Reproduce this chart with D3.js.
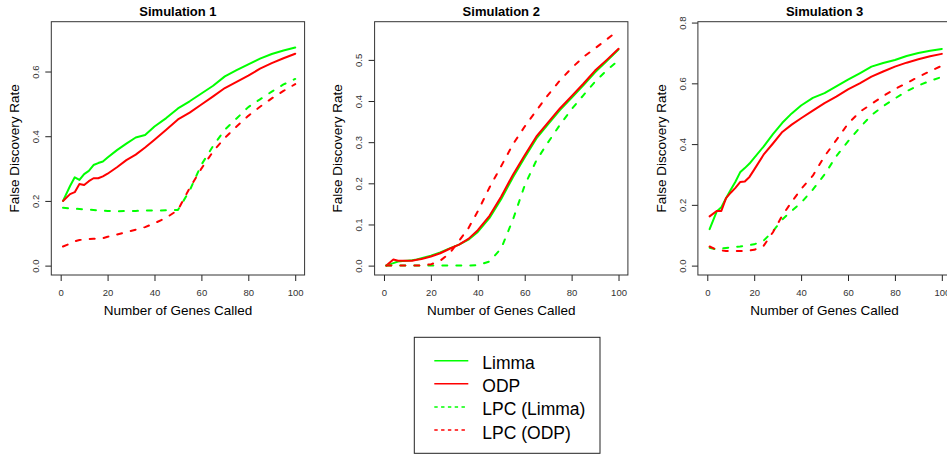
<!DOCTYPE html>
<html lang="en">
<head>
    <meta charset="UTF-8">
    <title>False Discovery Rate — Simulations 1-3</title>
    <script src="https://d3js.org/d3.v7.min.js"></script>
    <style>
        body {
            margin: 0;
            background-color: white;
        }

        svg {
            display: block;
            font-family: "Liberation Sans", Arial, Helvetica, sans-serif;
        }
    </style>
</head>
<body>
<svg></svg>
<script>
    // number of genes called (x values shared by every curve)
    const genesCalled = [1, 4, 6, 8, 10, 12, 14, 16, 18, 20, 24, 28, 32, 36, 40, 45, 50, 55, 60, 65, 70, 75, 80, 85, 90, 95, 100];

    // Simulation 1
    const sim1Limma    = [0.200, 0.246, 0.273, 0.265, 0.283, 0.293, 0.311, 0.317, 0.322, 0.334, 0.357, 0.377, 0.396, 0.404, 0.430, 0.456, 0.486, 0.508, 0.532, 0.556, 0.585, 0.604, 0.622, 0.640, 0.654, 0.665, 0.674];
    const sim1Odp      = [0.200, 0.221, 0.227, 0.252, 0.249, 0.261, 0.270, 0.270, 0.276, 0.284, 0.304, 0.326, 0.343, 0.365, 0.389, 0.420, 0.452, 0.473, 0.498, 0.523, 0.549, 0.568, 0.587, 0.609, 0.626, 0.641, 0.655];
    const sim1LpcLimma = [0.179, 0.177, 0.176, 0.175, 0.174, 0.173, 0.172, 0.171, 0.170, 0.169, 0.168, 0.169, 0.169, 0.170, 0.170, 0.171, 0.172, 0.232, 0.312, 0.370, 0.420, 0.455, 0.490, 0.514, 0.538, 0.560, 0.577];
    const sim1LpcOdp   = [0.059, 0.068, 0.075, 0.079, 0.081, 0.082, 0.083, 0.084, 0.085, 0.089, 0.096, 0.104, 0.111, 0.119, 0.131, 0.148, 0.172, 0.240, 0.300, 0.353, 0.395, 0.430, 0.463, 0.491, 0.517, 0.540, 0.561];

    // Simulation 2
    const sim2Limma    = [0.000, 0.006, 0.010, 0.011, 0.012, 0.013, 0.015, 0.018, 0.021, 0.024, 0.032, 0.042, 0.051, 0.063, 0.082, 0.116, 0.162, 0.215, 0.263, 0.309, 0.344, 0.378, 0.408, 0.438, 0.470, 0.497, 0.525];
    const sim2Odp      = [0.000, 0.015, 0.012, 0.012, 0.012, 0.012, 0.014, 0.016, 0.019, 0.022, 0.030, 0.041, 0.051, 0.065, 0.086, 0.121, 0.168, 0.221, 0.268, 0.314, 0.348, 0.382, 0.412, 0.442, 0.474, 0.500, 0.527];
    const sim2LpcLimma = [0.000, 0.000, 0.000, 0.000, 0.000, 0.000, 0.000, 0.000, 0.000, 0.000, 0.000, 0.000, 0.000, 0.000, 0.001, 0.010, 0.042, 0.112, 0.195, 0.256, 0.300, 0.342, 0.380, 0.414, 0.447, 0.475, 0.499];
    const sim2LpcOdp   = [0.000, 0.000, 0.000, 0.000, 0.000, 0.000, 0.000, 0.001, 0.002, 0.003, 0.012, 0.030, 0.060, 0.091, 0.132, 0.190, 0.242, 0.295, 0.338, 0.377, 0.415, 0.450, 0.480, 0.507, 0.528, 0.550, 0.572];

    // Simulation 3
    const sim3Limma    = [0.120, 0.178, 0.192, 0.222, 0.250, 0.276, 0.307, 0.321, 0.336, 0.355, 0.392, 0.433, 0.470, 0.501, 0.527, 0.552, 0.568, 0.590, 0.612, 0.633, 0.655, 0.667, 0.677, 0.690, 0.700, 0.707, 0.713];
    const sim3Odp      = [0.162, 0.180, 0.180, 0.222, 0.240, 0.256, 0.275, 0.277, 0.292, 0.316, 0.365, 0.402, 0.440, 0.464, 0.485, 0.510, 0.535, 0.556, 0.580, 0.600, 0.622, 0.639, 0.655, 0.668, 0.679, 0.689, 0.697];
    const sim3LpcLimma = [0.059, 0.053, 0.056, 0.058, 0.060, 0.062, 0.063, 0.065, 0.068, 0.070, 0.082, 0.113, 0.152, 0.180, 0.207, 0.250, 0.300, 0.360, 0.409, 0.454, 0.495, 0.525, 0.550, 0.574, 0.593, 0.608, 0.621];
    const sim3LpcOdp   = [0.063, 0.052, 0.050, 0.048, 0.048, 0.048, 0.048, 0.048, 0.050, 0.052, 0.065, 0.110, 0.165, 0.210, 0.252, 0.296, 0.360, 0.413, 0.467, 0.506, 0.532, 0.558, 0.581, 0.601, 0.621, 0.640, 0.658];

    const seriesNames = ["Limma", "ODP", "LPC (Limma)", "LPC (ODP)"];
    const panelTitles = ["Simulation 1", "Simulation 2", "Simulation 3"];
    const xTicks = [0, 20, 40, 60, 80, 100];
    const yTicks1 = [0, 0.2, 0.4, 0.6];
    const yTicks2 = [0, 0.1, 0.2, 0.3, 0.4, 0.5];
    const yTicks3 = [0, 0.2, 0.4, 0.6, 0.8];
    const xLimits = [0, 100];
    const yLimits1 = [0, 0.725];
    const yLimits2 = [0, 0.57];
    const yLimits3 = [0, 0.772];

    // built from the arrays above
    const panels = [
        {title: panelTitles[0], yTicks: yTicks1, yLim: yLimits1, series: [sim1Limma, sim1Odp, sim1LpcLimma, sim1LpcOdp]},
        {title: panelTitles[1], yTicks: yTicks2, yLim: yLimits2, series: [sim2Limma, sim2Odp, sim2LpcLimma, sim2LpcOdp]},
        {title: panelTitles[2], yTicks: yTicks3, yLim: yLimits3, series: [sim3Limma, sim3Odp, sim3LpcLimma, sim3LpcOdp]}
    ];

    // line styles (R: green / red, lty 1 / 2)
    const seriesStyle = {
        "Limma":       {color: "#00ff00", dashed: false},
        "ODP":         {color: "#ff0000", dashed: false},
        "LPC (Limma)": {color: "#00ff00", dashed: true},
        "LPC (ODP)":   {color: "#ff0000", dashed: true}
    };

    const width = 947, height = 454;
    const svg = d3.select("svg")
        .attr("width", width)
        .attr("height", height);

    const boxSize = 253.3;      // square plot region
    const boxTop = 21.7;
    const panelLeft = [51.3, 374.6, 697.9];

    // R style 4% axis expansion
    const expand = lim => {
        const pad = (lim[1] - lim[0]) * 0.04;
        return [lim[0] - pad, lim[1] + pad];
    };

    panels.forEach((panel, i) => {
        const g = svg.append("g")
            .attr("transform", `translate(${panelLeft[i]},${boxTop})`);

        const x = d3.scaleLinear().domain(expand(xLimits)).range([0, boxSize]);
        const y = d3.scaleLinear().domain(expand(panel.yLim)).range([boxSize, 0]);

        const line = d3.line()
            .x((d, j) => x(genesCalled[j]))
            .y(d => y(d));

        // curves
        panel.series.forEach((values, k) => {
            const style = seriesStyle[seriesNames[k]];
            g.append("path")
                .datum(values)
                .attr("d", line)
                .attr("fill", "none")
                .attr("stroke", style.color)
                .attr("stroke-width", 2)
                .attr("stroke-linecap", "round")
                .attr("stroke-linejoin", "round")
                .attr("stroke-dasharray", style.dashed ? "5,9" : null);
        });

        // x axis
        const xAxis = g.append("g")
            .attr("transform", `translate(0,${boxSize})`)
            .call(d3.axisBottom(x).tickValues(xTicks).tickSize(6).tickPadding(8));
        xAxis.select(".domain").remove();
        xAxis.selectAll("line").attr("stroke", "#222");
        xAxis.selectAll("text")
            .attr("font-size", "9.5px")
            .attr("font-family", null)
            .attr("fill", "#333");

        // y axis, labels turned like R's default las = 0
        const yAxis = g.append("g")
            .call(d3.axisLeft(y).tickValues(panel.yTicks).tickSize(6).tickFormat(d3.format(".1f")));
        yAxis.select(".domain").remove();
        yAxis.selectAll("line").attr("stroke", "#222");
        yAxis.selectAll("text")
            .attr("x", null)
            .attr("dy", null)
            .attr("text-anchor", "middle")
            .attr("transform", "translate(-12.3,0) rotate(-90)")
            .attr("font-size", "9.5px")
            .attr("font-family", null)
            .attr("fill", "#333");

        // box
        g.append("rect")
            .attr("width", boxSize)
            .attr("height", boxSize)
            .attr("fill", "none")
            .attr("stroke", "#333")
            .attr("stroke-width", 1);

        // title
        g.append("text")
            .attr("x", boxSize / 2)
            .attr("y", -6)
            .attr("text-anchor", "middle")
            .attr("font-size", "13px")
            .attr("font-weight", "bold")
            .text(panel.title);

        // axis titles
        g.append("text")
            .attr("x", boxSize / 2)
            .attr("y", boxSize + 40.5)
            .attr("text-anchor", "middle")
            .attr("font-size", "13.5px")
            .text("Number of Genes Called");

        g.append("text")
            .attr("transform", `translate(-32.3,${boxSize / 2}) rotate(-90)`)
            .attr("text-anchor", "middle")
            .attr("font-size", "13.5px")
            .text("False Discovery Rate");
    });

    // legend
    const legend = svg.append("g").attr("transform", "translate(414.3,337.3)");
    legend.append("rect")
        .attr("width", 185.7)
        .attr("height", 116)
        .attr("fill", "white")
        .attr("stroke", "#222")
        .attr("stroke-width", 1);

    seriesNames.forEach((name, k) => {
        const style = seriesStyle[name];
        const rowY = 23.4 + k * 23.1;
        legend.append("line")
            .attr("x1", 20)
            .attr("x2", 54)
            .attr("y1", rowY)
            .attr("y2", rowY)
            .attr("stroke", style.color)
            .attr("stroke-width", 1.5)
            .attr("stroke-dasharray", style.dashed ? "3.4,3.4" : null);
        legend.append("text")
            .attr("x", 68)
            .attr("y", rowY)
            .attr("dy", "0.49em")
            .attr("font-size", "17.5px")
            .text(name);
    });
</script>
</body>
</html>
